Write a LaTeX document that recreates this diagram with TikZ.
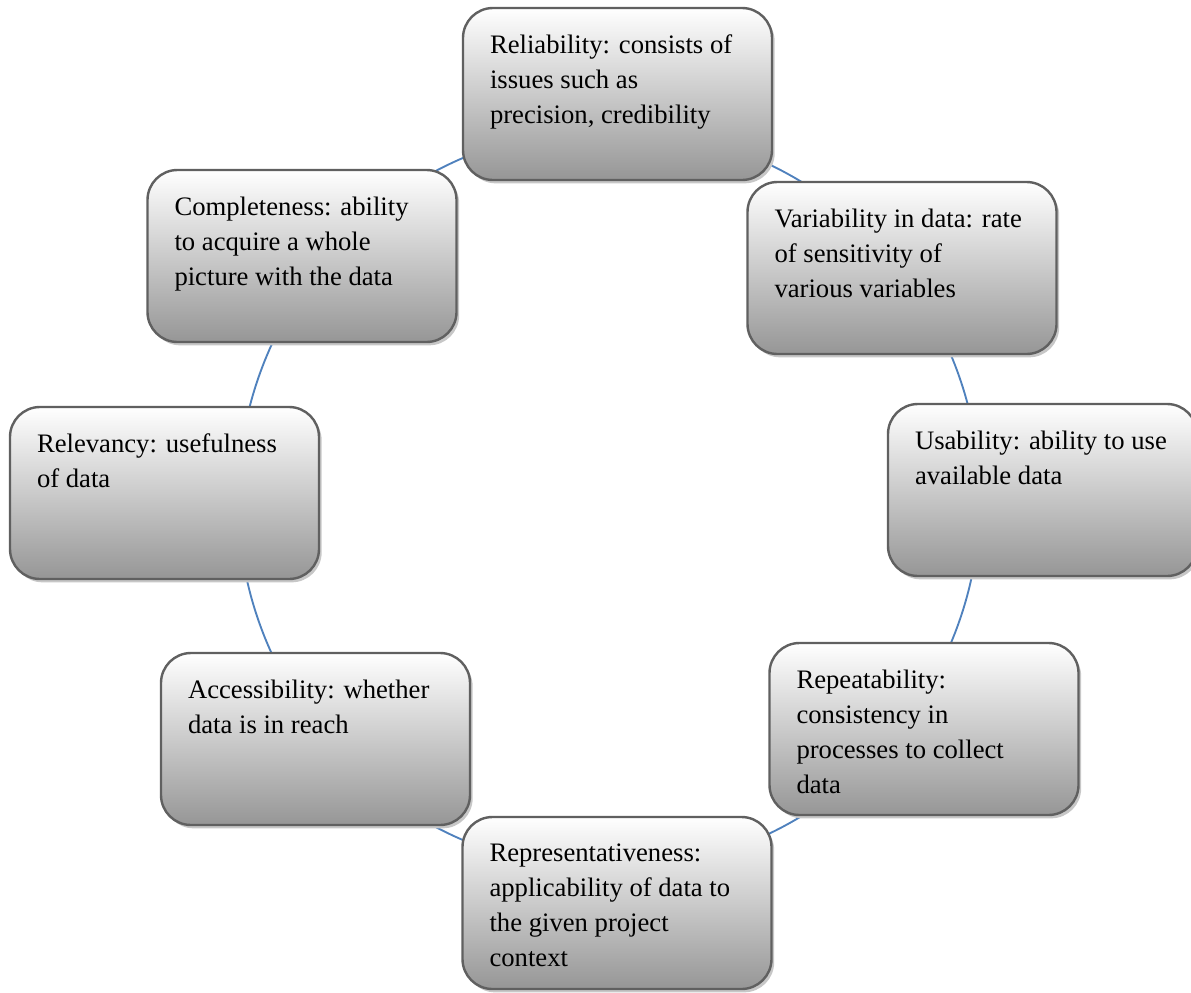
\documentclass[tikz,border=0pt]{standalone}
\usepackage{fontspec}
\setmainfont{Liberation Serif}
\usetikzlibrary{calc,shadows}
\definecolor{connblue}{RGB}{79,129,189}
\definecolor{boxline}{RGB}{96,96,96}
\definecolor{boxbot}{RGB}{150,150,150}
\newcommand\boxtext[1]{\parbox[c][89.25pt][t]{191.25pt}{\raggedright #1}}
\begin{document}
\begin{tikzpicture}[x=0.75pt,y=-0.75pt,
  box/.style={rounded corners=22.5pt, draw=boxline, line width=1.8pt,
    top color=white, bottom color=boxbot,
    minimum width=231.75pt, minimum height=129pt, inner sep=0pt,
    general shadow={fill=black!22, shadow xshift=2pt, shadow yshift=-2.5pt},
    font=\fontsize{20}{26.25}\selectfont},
  conn/.style={draw=connblue, line width=1.4pt}]
\useasboundingbox (0,0) rectangle (1191,992);
% points of the cycle circle, one inside each box
\coordinate (c) at (609,499);
\coordinate (k1) at ($(c)+(90:278.25pt)$);
\coordinate (k2) at ($(c)+(45:278.25pt)$);
\coordinate (k3) at ($(c)+(0:278.25pt)$);
\coordinate (k4) at ($(c)+(-45:278.25pt)$);
\coordinate (k5) at ($(c)+(-90:278.25pt)$);
\coordinate (k6) at ($(c)+(-135:278.25pt)$);
\coordinate (k7) at ($(c)+(180:278.25pt)$);
\coordinate (k8) at ($(c)+(135:278.25pt)$);
% connectors
\draw[conn] (k1) arc[start angle=90, end angle=45, radius=278.25pt];
\draw[conn] (k2) arc[start angle=45, end angle=0, radius=278.25pt];
\draw[conn] (k3) arc[start angle=0, end angle=-45, radius=278.25pt];
\draw[conn] (k4) arc[start angle=-45, end angle=-90, radius=278.25pt];
\draw[conn] (k5) arc[start angle=-90, end angle=-135, radius=278.25pt];
\draw[conn] (k6) arc[start angle=-135, end angle=-180, radius=278.25pt];
\draw[conn] (k7) arc[start angle=180, end angle=135, radius=278.25pt];
\draw[conn] (k8) arc[start angle=135, end angle=90, radius=278.25pt];
% boxes
\node[box] (reliab) at (617.5,94) {\boxtext{Reliability: consists of\\issues such as\\precision, credibility}};
\node[box] (variab) at (902,268) {\boxtext{Variability in data: rate\\of sensitivity of\\various variables}};
\node[box] (usab) at (1042.5,490) {\boxtext{Usability: ability to use\\available data}};
\node[box] (repeat) at (924,729) {\boxtext{Repeatability:\\consistency in\\processes to collect\\data}};
\node[box] (repres) at (617,903) {\boxtext{Representativeness:\\applicability of data to\\the given project\\context}};
\node[box] (access) at (315.5,739) {\boxtext{Accessibility: whether\\data is in reach}};
\node[box] (relev) at (164.5,493) {\boxtext{Relevancy: usefulness\\of data}};
\node[box] (complete) at (302,256) {\boxtext{Completeness: ability\\to acquire a whole\\picture with the data}};
\end{tikzpicture}
\end{document}
